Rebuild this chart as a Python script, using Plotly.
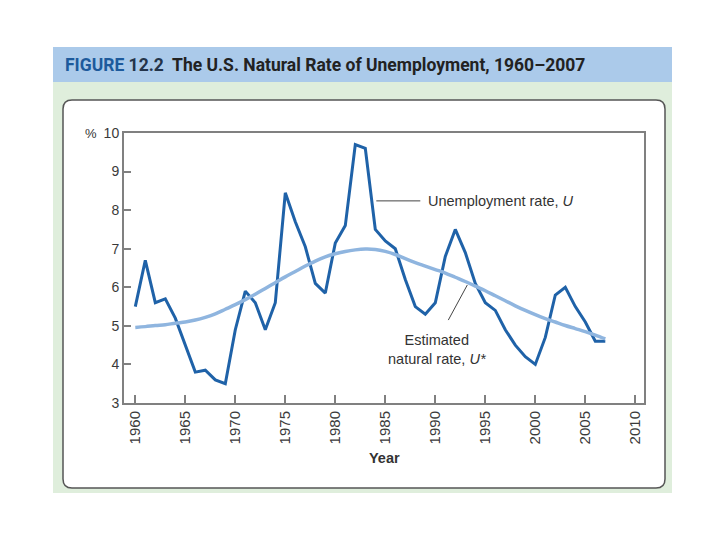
import plotly.graph_objects as go

# U.S. unemployment rate and estimated natural rate, 1960-2007
years = list(range(1960, 2008))
unemployment = [5.5, 6.7, 5.6, 5.7, 5.2, 4.5, 3.8, 3.85, 3.6, 3.5,
                4.9, 5.9, 5.6, 4.9, 5.6, 8.45, 7.7, 7.05, 6.1, 5.85,
                7.15, 7.6, 9.7, 9.6, 7.5, 7.2, 7.0, 6.2, 5.5, 5.3,
                5.6, 6.8, 7.5, 6.9, 6.1, 5.6, 5.4, 4.9, 4.5, 4.2,
                4.0, 4.7, 5.8, 6.0, 5.5, 5.1, 4.6, 4.6]
natural_rate = [4.96, 4.98, 5.01, 5.03, 5.07, 5.10, 5.15, 5.22, 5.31, 5.43,
                5.55, 5.68, 5.82, 5.97, 6.12, 6.27, 6.41, 6.55, 6.68, 6.79,
                6.87, 6.93, 6.97, 6.99, 6.98, 6.93, 6.85, 6.74, 6.64, 6.55,
                6.46, 6.37, 6.26, 6.15, 6.03, 5.91, 5.78, 5.65, 5.52, 5.40,
                5.29, 5.19, 5.10, 5.01, 4.93, 4.85, 4.76, 4.66]
x_ticks = list(range(1960, 2011, 5))

# plot area in screen pixels (page body adds an 8px offset)
L, T, W, H = 124, 133, 520, 270
OFF = 8


def px(x):
    return (x - L) / W


def py(y):
    return 1 - (y - T) / H


def rounded_box(x0, y0, x1, y1, r):
    pts = [
        f"M {px(x0 + r)},{py(y0)}",
        f"L {px(x1 - r)},{py(y0)}",
        f"Q {px(x1)},{py(y0)} {px(x1)},{py(y0 + r)}",
        f"L {px(x1)},{py(y1 - r)}",
        f"Q {px(x1)},{py(y1)} {px(x1 - r)},{py(y1)}",
        f"L {px(x0 + r)},{py(y1)}",
        f"Q {px(x0)},{py(y1)} {px(x0)},{py(y1 - r)}",
        f"L {px(x0)},{py(y0 + r)}",
        f"Q {px(x0)},{py(y0)} {px(x0 + r)},{py(y0)} Z",
    ]
    return " ".join(pts)


fig = go.Figure()

fig.add_trace(go.Scatter(
    x=years, y=unemployment, mode="lines",
    line=dict(color="#1f62a8", width=3),
    hoverinfo="x+y", showlegend=False
))
fig.add_trace(go.Scatter(
    x=years, y=natural_rate, mode="lines",
    line=dict(color="#8fb5df", width=3.5, shape="spline"),
    hoverinfo="x+y", showlegend=False
))

shapes = [
    # title band
    dict(type="rect", xref="paper", yref="paper", layer="below",
         x0=px(53), x1=px(672), y0=py(47), y1=py(82),
         fillcolor="#abcaea", line=dict(width=0)),
    # green panel
    dict(type="rect", xref="paper", yref="paper", layer="below",
         x0=px(53), x1=px(672), y0=py(82), y1=py(493),
         fillcolor="#dfeedc", line=dict(width=0)),
    # white rounded box
    dict(type="path", xref="paper", yref="paper", layer="below",
         path=rounded_box(63, 100, 665, 488, 9),
         fillcolor="white", line=dict(color="#555555", width=1.5)),
    # leader lines
    dict(type="line", xref="x", yref="y", x0=1984.1, x1=1988.5, y0=8.24, y1=8.24,
         line=dict(color="#444444", width=1)),
    dict(type="line", xref="x", yref="y", x0=1993.2, x1=1991.3, y0=6.06, y1=5.15,
         line=dict(color="#444444", width=1)),
]

label_font = dict(family="Liberation Sans, Arial, sans-serif", size=14.5, color="#333333")

annotations = [
    dict(xref="paper", yref="paper", x=px(63), y=py(65), xanchor="left", yanchor="middle",
         showarrow=False,
         text="<b><span style='color:#1d5a9c'>FIGURE</span> "
              "<span style='color:#23344a'>12.2</span>  "
              "The U.S. Natural Rate of Unemployment, 1960–2007</b>",
         font=dict(family="Roboto, sans-serif", size=17.5, color="#222222")),
    dict(xref="paper", yref="paper", x=px(91), y=1, xanchor="center", yanchor="middle",
         showarrow=False, text="%",
         font=dict(family="Liberation Sans, Arial, sans-serif", size=13, color="#333333")),
    dict(xref="x", yref="y", x=1989.1, y=8.24, xanchor="left", yanchor="middle",
         showarrow=False, text="Unemployment rate, <i>U</i>", font=label_font),
    dict(xref="x", yref="y", x=1990.2, y=4.40, xanchor="center", yanchor="middle",
         showarrow=False, text="Estimated<br>natural rate, <i>U*</i>", font=label_font),
    dict(xref="paper", yref="paper", x=0.5, y=py(458), xanchor="center", yanchor="middle",
         showarrow=False, text="<b>Year</b>",
         font=dict(family="Liberation Sans, Arial, sans-serif", size=14.5, color="#333333")),
]

axis_common = dict(
    showline=True, mirror=True, linecolor="#808080", linewidth=2,
    ticks="inside", tickcolor="#808080", tickwidth=1.5,
    showgrid=False, zeroline=False,
)
tick_family = "Liberation Sans, Arial, sans-serif"

fig.update_layout(
    width=720, height=540,
    margin=dict(l=L - OFF, r=720 - (L - OFF) - W, t=T - OFF, b=540 - (T - OFF) - H, pad=0),
    paper_bgcolor="white",
    plot_bgcolor="rgba(0,0,0,0)",
    shapes=shapes,
    annotations=annotations,
    xaxis=dict(range=[1958.87, 2010.87], tickvals=x_ticks, tickangle=-90,
               ticklen=8, tickfont=dict(family=tick_family, size=15, color="#3a3a3a"),
               **axis_common),
    yaxis=dict(range=[3, 10], dtick=1, ticklen=7,
               tickfont=dict(family=tick_family, size=14, color="#3a3a3a"),
               **axis_common),
)

fig.write_html("out.html")
